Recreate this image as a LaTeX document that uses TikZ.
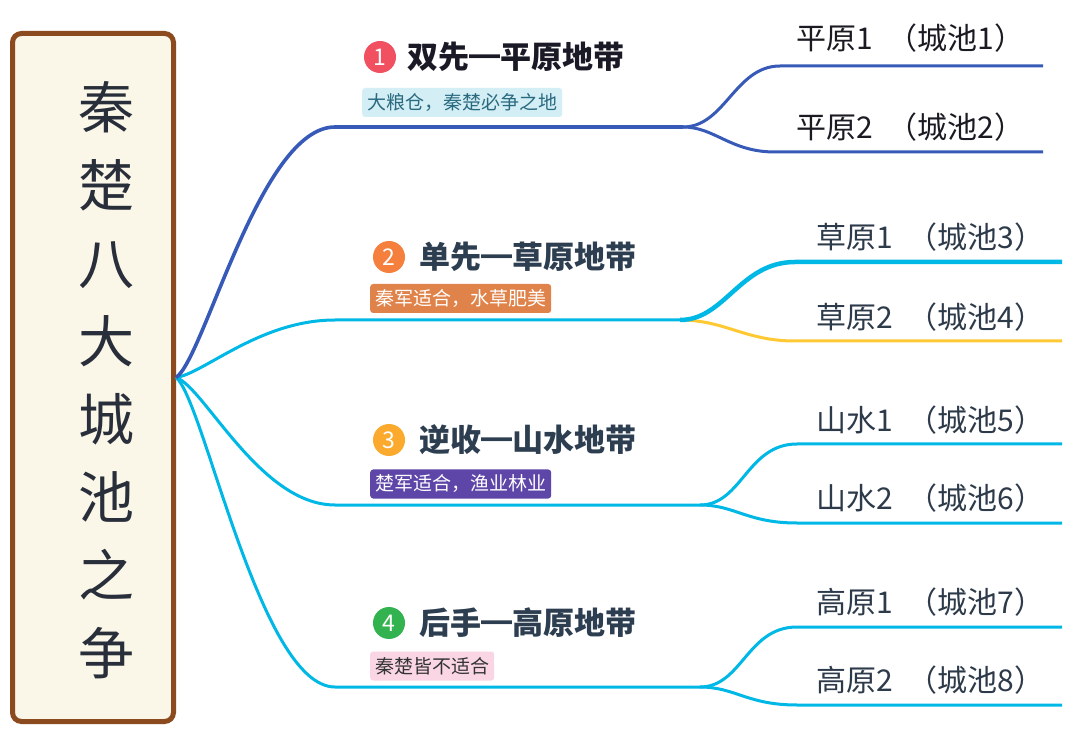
\documentclass[tikz,border=0pt]{standalone}
\usepackage{fontspec}
\setmainfont{Noto Sans CJK SC}
\usetikzlibrary{calc}
\newcommand\wdash{\makebox[1em][c]{━}}
\newcommand\pgap{\hspace{0.5em}}
\definecolor{rootborder}{RGB}{139,75,30}
\definecolor{rootfill}{RGB}{250,246,232}
\definecolor{bblue}{RGB}{55,90,185}
\definecolor{bcyan}{RGB}{0,184,230}
\definecolor{byellow}{RGB}{255,201,51}
\definecolor{badgeA}{RGB}{240,80,95}
\definecolor{badgeB}{RGB}{245,128,62}
\definecolor{badgeC}{RGB}{251,170,46}
\definecolor{badgeD}{RGB}{51,179,79}
\definecolor{tagAbg}{RGB}{211,238,244}
\definecolor{tagAtx}{RGB}{42,106,128}
\definecolor{tagBbg}{RGB}{224,131,74}
\definecolor{tagCbg}{RGB}{94,69,168}
\definecolor{tagDbg}{RGB}{250,214,228}
\definecolor{tagDtx}{RGB}{51,51,51}
\definecolor{titleA}{RGB}{26,26,38}
\definecolor{titleB}{RGB}{45,62,80}
\definecolor{leafA}{RGB}{26,26,34}
\definecolor{leafB}{RGB}{45,58,74}
\definecolor{rootink}{RGB}{40,46,58}
\tikzset{
  rootbox/.style={draw=rootborder, line width=5pt, fill=rootfill, rounded corners=9pt,
    minimum width=161pt, minimum height=688pt, inner sep=0pt},
  roottext/.style={align=center, inner sep=0pt, text=rootink,
    font=\fontsize{56}{78}\selectfont},
  badge/.style={circle, minimum size=32pt, inner sep=0pt, text=white,
    font=\fontsize{23}{23}\selectfont},
  titletext/.style={anchor=west, inner sep=0pt, font=\fontsize{31}{31}\selectfont\bfseries},
  tagbox/.style={anchor=west, rounded corners=3pt, inner xsep=5pt, inner ysep=0pt,
    minimum height=29pt, font=\fontsize{19}{19}\selectfont},
  leaftext/.style={anchor=west, inner sep=0pt, font=\fontsize{30}{30}\selectfont},
  line1/.style={draw=bblue, line width=3.6pt},
  linec/.style={draw=bcyan, line width=3pt},
  leafline/.style={line width=3pt},
}
\begin{document}
\begin{tikzpicture}[x=1pt,y=-1pt]
\fill[white] (0,0) rectangle (1080,735);
\useasboundingbox (0,0) rectangle (1080,735);

% root
\node[rootbox] (root) at (93,377.5) {};
\node[roottext] (rt) at (106,380) {秦\\楚\\八\\大\\城\\池\\之\\争};

% branch coordinates
\coordinate (b1s) at (335,127);
\coordinate (b1) at (683,127);
\coordinate (b2s) at (335,320);
\coordinate (b2) at (680,320);
\coordinate (b3s) at (335,505);
\coordinate (b3) at (700,505);
\coordinate (b4s) at (335,687);
\coordinate (b4) at (700,687);

\coordinate (l1a) at (780,66);   \coordinate (l1ae) at (1043,66);
\coordinate (l1b) at (775,152);  \coordinate (l1be) at (1043,152);
\coordinate (l2a) at (795,262);  \coordinate (l2ae) at (1062,262);
\coordinate (l2b) at (795,341);  \coordinate (l2be) at (1062,341);
\coordinate (l3a) at (797,444);  \coordinate (l3ae) at (1062,444);
\coordinate (l3b) at (797,523);  \coordinate (l3be) at (1062,523);
\coordinate (l4a) at (797,627);  \coordinate (l4ae) at (1062,627);
\coordinate (l4b) at (797,705);  \coordinate (l4be) at (1062,705);

% leaf connectors
\draw[leafline, bblue] (b1) .. controls +(42,0) and +(-45,0) .. (l1a) -- (l1ae);
\draw[leafline, bblue] (b1) .. controls +(32,0) and +(-45,0) .. (l1b) -- (l1be);
\draw[leafline, byellow] (b2) .. controls +(45,0) and +(-50,0) .. (l2b) -- (l2be);
\draw[line width=4.5pt, bcyan] (b2) .. controls +(45,0) and +(-55,0) .. (l2a) -- (l2ae);
\draw[leafline, bcyan] (b3) .. controls +(42,0) and +(-50,0) .. (l3a) -- (l3ae);
\draw[leafline, bcyan] (b3) .. controls +(35,0) and +(-50,0) .. (l3b) -- (l3be);
\draw[leafline, bcyan] (b4) .. controls +(42,0) and +(-50,0) .. (l4a) -- (l4ae);
\draw[leafline, bcyan] (b4) .. controls +(35,0) and +(-50,0) .. (l4b) -- (l4be);

% main branches
\draw[linec] (root.east) .. controls +(28,-4) and +(-75,0) .. (b2s) -- (b2);
\draw[linec] (root.east) .. controls +(28,9) and +(-75,0) .. (b3s) -- (b3);
\draw[linec] (root.east) .. controls +(28,22) and +(-75,0) .. (b4s) -- (b4);
\draw[line1] (root.east) .. controls +(28,-18) and +(-75,0) .. (b1s) -- (b1);

% branch 1
\node[badge, fill=badgeA] (n1) at (380,57) {1};
\node[titletext, text=titleA] (t1) at (407,57) {双先\wdash 平原地带};
\node[tagbox, fill=tagAbg, text=tagAtx] (g1) at (362,102.5) {大粮仓，秦楚必争之地};
% branch 2
\node[badge, fill=badgeB] (n2) at (389,257) {2};
\node[titletext, text=titleB] (t2) at (419,257) {单先\wdash 草原地带};
\node[tagbox, fill=tagBbg, text=white] (g2) at (370,298.5) {秦军适合，水草肥美};
% branch 3
\node[badge, fill=badgeC] (n3) at (389,440) {3};
\node[titletext, text=titleB] (t3) at (419,440) {逆收\wdash 山水地带};
\node[tagbox, fill=tagCbg, text=white] (g3) at (370,484) {楚军适合，渔业林业};
% branch 4
\node[badge, fill=badgeD] (n4) at (389,623) {4};
\node[titletext, text=titleB] (t4) at (419,623) {后手\wdash 高原地带};
\node[tagbox, fill=tagDbg, text=tagDtx] (g4) at (370,666) {秦楚皆不适合};

% leaves
\node[leaftext, text=leafA] (f1) at (796,38) {平原1\pgap（城池1）};
\node[leaftext, text=leafA] (f2) at (796,127) {平原2\pgap（城池2）};
\node[leaftext, text=leafB] (f3) at (816,237) {草原1\pgap（城池3）};
\node[leaftext, text=leafB] (f4) at (816,317) {草原2\pgap（城池4）};
\node[leaftext, text=leafB] (f5) at (816,420) {山水1\pgap（城池5）};
\node[leaftext, text=leafB] (f6) at (816,498) {山水2\pgap（城池6）};
\node[leaftext, text=leafB] (f7) at (816,602) {高原1\pgap（城池7）};
\node[leaftext, text=leafB] (f8) at (816,680) {高原2\pgap（城池8）};
\end{tikzpicture}
\end{document}
